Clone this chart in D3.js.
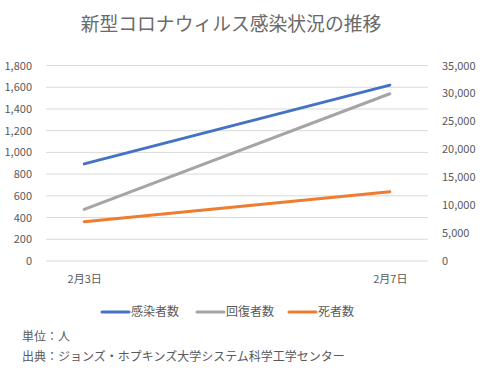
<!DOCTYPE html>
<html>
<head>
<meta charset="utf-8">
<script src="https://cdn.jsdelivr.net/npm/d3@7"></script>
<style>
  body { margin: 0; background: #fff; }
  svg text { font-family: "Noto Sans CJK JP", "Noto Sans", sans-serif; fill: #595959; }
</style>
</head>
<body>
<div id="chart"></div>
<script>
// data
var categories = ["2月3日", "2月7日"];
var days = [3, 7];
var infected = [17391, 31481];   // right axis
var recovered = [475, 1540];     // left axis
var deaths = [362, 638];         // left axis
var leftTicks = [0, 200, 400, 600, 800, 1000, 1200, 1400, 1600, 1800];
var rightTicks = [0, 5000, 10000, 15000, 20000, 25000, 30000, 35000];

var width = 491, height = 375;
var plot = {left: 46, right: 428, top: 65.5, bottom: 261};

var svg = d3.select("#chart").append("svg")
  .attr("width", width)
  .attr("height", height);

// date axis: one slot per day, Feb 3 .. Feb 7
var x = d3.scaleLinear().domain([2.5, 7.5]).range([plot.left, plot.right]);
var yL = d3.scaleLinear().domain([0, 1800]).range([plot.bottom, plot.top]);
var yR = d3.scaleLinear().domain([0, 35000]).range([plot.bottom, plot.top]);

svg.append("text")
  .attr("x", 231).attr("y", 31)
  .attr("text-anchor", "middle")
  .style("font-size", "18.8px")
  .style("fill", "#6a6a6a")
  .text("新型コロナウィルス感染状況の推移");

// gridlines
svg.append("g")
  .selectAll("line")
  .data(leftTicks)
  .enter().append("line")
  .attr("x1", plot.left).attr("x2", plot.right)
  .attr("y1", d => yL(d)).attr("y2", d => yL(d))
  .style("stroke", "#d9d9d9").style("stroke-width", 1);

var fmt = d3.format(",");

var leftAxis = svg.append("g")
  .attr("transform", "translate(" + (plot.left - 11) + ",0)")
  .call(d3.axisLeft(yL).tickValues(leftTicks).tickFormat(fmt).tickSize(0));
leftAxis.select(".domain").remove();

var rightAxis = svg.append("g")
  .attr("transform", "translate(" + (plot.right + 11) + ",0)")
  .call(d3.axisRight(yR).tickValues(rightTicks).tickFormat(fmt).tickSize(0));
rightAxis.select(".domain").remove();

var xAxis = svg.append("g")
  .attr("transform", "translate(0," + (plot.bottom + 11) + ")")
  .call(d3.axisBottom(x).tickValues(days).tickFormat((d, i) => categories[i]).tickSize(0));
xAxis.select(".domain").remove();

svg.selectAll(".tick text")
  .style("font-size", "11px")
  .style("fill", "#595959");

var series = [
  {name: "感染者数", values: infected, y: yR, color: "#4472c4"},
  {name: "回復者数", values: recovered, y: yL, color: "#a5a5a5"},
  {name: "死者数", values: deaths, y: yL, color: "#ed7d31"}
];

// draw deaths first, infected on top
series.slice().reverse().forEach(function(s) {
  var line = d3.line()
    .x((d, i) => x(days[i]))
    .y(d => s.y(d));
  svg.append("path")
    .datum(s.values)
    .attr("d", line)
    .style("fill", "none")
    .style("stroke", s.color)
    .style("stroke-width", 3)
    .style("stroke-linecap", "round");
});

// legend
var legendX = [102, 197, 289];
var legend = svg.append("g");
series.forEach(function(s, i) {
  legend.append("line")
    .attr("x1", legendX[i]).attr("x2", legendX[i] + 27)
    .attr("y1", 312).attr("y2", 312)
    .style("stroke", s.color).style("stroke-width", 3)
    .style("stroke-linecap", "round");
  legend.append("text")
    .attr("x", legendX[i] + 29).attr("y", 316)
    .style("font-size", "12px")
    .text(s.name);
});

svg.append("text")
  .attr("x", 22).attr("y", 341)
  .style("font-size", "12px")
  .text("単位：人");
svg.append("text")
  .attr("x", 22).attr("y", 361)
  .style("font-size", "12px")
  .text("出典：ジョンズ・ホプキンズ大学システム科学工学センター");
</script>
</body>
</html>
